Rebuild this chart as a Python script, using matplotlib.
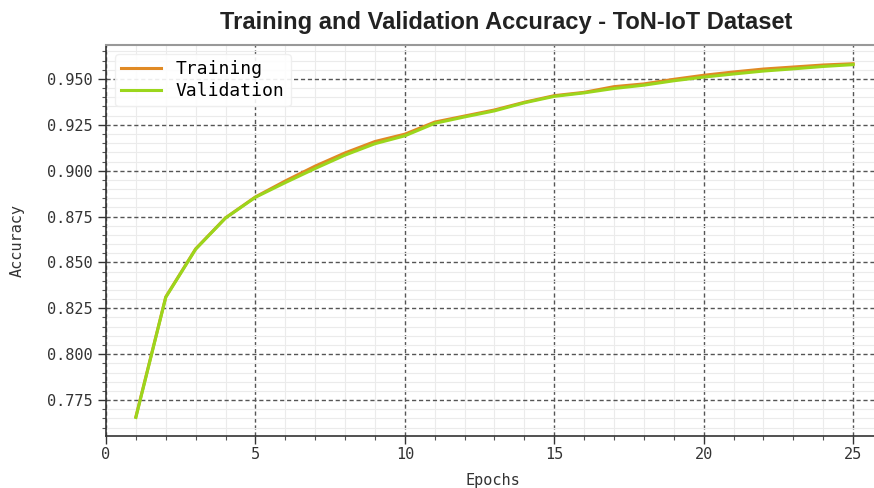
import matplotlib
matplotlib.use('Agg')
import matplotlib.pyplot as plt
from matplotlib.ticker import MultipleLocator, FormatStrFormatter

# accuracy per epoch
epochs = list(range(1, 26))
train_acc = [0.7659, 0.8312, 0.8574, 0.8743, 0.8857, 0.8944, 0.9025, 0.9097, 0.9159, 0.9199,
             0.9265, 0.9298, 0.9331, 0.9373, 0.9409, 0.9427, 0.9458, 0.9473, 0.9498, 0.9520,
             0.9538, 0.9554, 0.9565, 0.9576, 0.9583]
val_acc = [0.7655, 0.8310, 0.8572, 0.8742, 0.8855, 0.8935, 0.9012, 0.9085, 0.9147, 0.9190,
           0.9258, 0.9293, 0.9326, 0.9370, 0.9405, 0.9424, 0.9448, 0.9466, 0.9490, 0.9510,
           0.9527, 0.9543, 0.9555, 0.9568, 0.9578]

mono = 'DejaVu Sans Mono'

fig = plt.figure(figsize=(8.74, 4.88), dpi=100)
# axes runs a little past the right edge of the canvas
ax = fig.add_axes([106 / 874, 1 - 436 / 488, 774 / 874, 391 / 488])

ax.plot(epochs, train_acc, color='#E08A24', lw=2.2, label='Training')
ax.plot(epochs, val_acc, color='#9BD61C', lw=2.2, label='Validation')

ax.set_xlim(0, 25.9)
ax.set_ylim(0.7554, 0.9685)

ax.xaxis.set_major_locator(MultipleLocator(5))
ax.xaxis.set_minor_locator(MultipleLocator(1))
ax.yaxis.set_major_locator(MultipleLocator(0.025))
ax.yaxis.set_minor_locator(MultipleLocator(0.005))
ax.yaxis.set_major_formatter(FormatStrFormatter('%.3f'))

ax.grid(which='major', color='#555555', linestyle='--', linewidth=1.0, dashes=(3, 2))
ax.grid(which='minor', color='#ebebeb', linestyle='-', linewidth=0.8)
ax.set_axisbelow(True)

for s in ['left', 'bottom']:
    ax.spines[s].set_color('#333333')
    ax.spines[s].set_linewidth(1.2)
ax.spines['top'].set_color('#999999')
ax.spines['top'].set_linewidth(1.5)
ax.spines['right'].set_visible(False)

ax.tick_params(which='major', length=6, width=1, color='#333333', labelsize=11)
ax.tick_params(which='minor', length=3, width=0.8, color='#555555')
ax.tick_params(axis='x', pad=2)
for lab in ax.get_xticklabels() + ax.get_yticklabels():
    lab.set_fontfamily(mono)
    lab.set_color('#333333')

ax.set_xlabel('Epochs', fontfamily=mono, fontsize=11, color='#333333', labelpad=8)
ax.set_ylabel('Accuracy', fontfamily=mono, fontsize=11, color='#333333', labelpad=16)

fig.text(506 / 874, 1 - 22 / 488, 'Training and Validation Accuracy - ToN-IoT Dataset',
         fontfamily='Liberation Sans', fontweight='bold', fontsize=17, color='#222222',
         ha='center', va='center')

leg = ax.legend(loc='upper left', prop={'family': mono, 'size': 13}, framealpha=0.9,
                edgecolor='#eeeeee', handlelength=2.2, borderaxespad=0.5,
                labelspacing=0.2, borderpad=0.35)

plt.savefig('out.png', dpi=100)
